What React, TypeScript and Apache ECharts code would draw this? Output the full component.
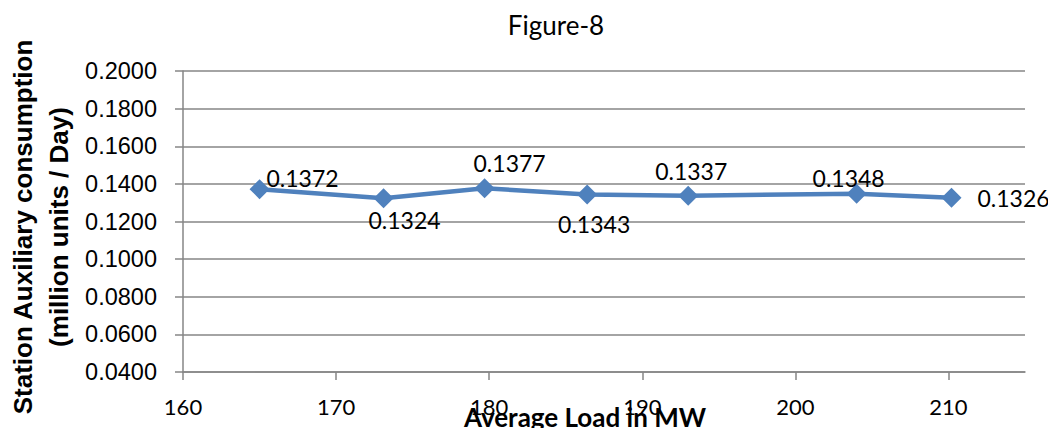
import React, { useEffect, useRef } from "react";
import * as echarts from "echarts";

const loads = [165.0, 173.1, 179.7, 186.4, 193.0, 204.0, 210.2];
const consumption = [0.1372, 0.1324, 0.1377, 0.1343, 0.1337, 0.1348, 0.1326];
const labelOffsets = [
  [43, -11],
  [21, 22],
  [25, -25],
  [7, 29],
  [3, -25],
  [-8, -16],
  [62, 0],
];
const xTicks = [160, 170, 180, 190, 200, 210];

export default function App() {
  const ref = useRef<HTMLDivElement>(null);
  useEffect(() => {
    if (!ref.current) return;
    const chart = echarts.init(ref.current, null, { renderer: "svg" });
    const gray = "#868686";
    chart.setOption({
      animation: false,
      backgroundColor: "#ffffff",
      title: {
        text: "Figure-8",
        left: 551,
        top: 7,
        textAlign: "center",
        textStyle: { fontFamily: "Lato", fontSize: 26, fontWeight: "normal", color: "#000" },
      },
      grid: { left: 183, right: 31, top: 71, bottom: 64 },
      xAxis: {
        type: "value",
        min: 160,
        max: 215,
        interval: 5,
        axisLine: { show: true, lineStyle: { color: gray, width: 1.5 } },
        axisTick: { show: true, length: 8, lineStyle: { color: gray, width: 1.5 }, customValues: xTicks },
        axisLabel: {
          customValues: xTicks,
          fontFamily: "Lato",
          fontSize: 22,
          color: "#000",
          margin: 23,
        },
        splitLine: { show: false },
      },
      yAxis: {
        type: "value",
        min: 0.04,
        max: 0.2,
        interval: 0.02,
        axisLine: { show: true, lineStyle: { color: gray, width: 1.5 } },
        axisTick: { show: true, length: 8, lineStyle: { color: gray, width: 1.5 } },
        axisLabel: {
          fontFamily: "Liberation Sans",
          fontSize: 23.5,
          color: "#000",
          margin: 26,
          formatter: (v: number) => v.toFixed(4),
        },
        splitLine: { show: true, lineStyle: { color: gray, width: 1.5 } },
      },
      graphic: [
        {
          type: "text",
          x: 41,
          y: 227,
          rotation: Math.PI / 2,
          style: {
            text: "Station Auxiliary consumption\n(million units / Day)",
            fontFamily: "Liberation Sans",
            fontWeight: "bold",
            fontSize: 26,
            lineHeight: 36,
            fill: "#000",
            textAlign: "center",
            textVerticalAlign: "middle",
          },
        },
        {
          type: "text",
          x: 585,
          y: 417,
          style: {
            text: "Average Load in MW",
            fontFamily: "Lato",
            fontWeight: "bold",
            fontSize: 26,
            fill: "#000",
            textAlign: "center",
            textVerticalAlign: "middle",
          },
        },
      ],
      series: [
        {
          type: "line",
          data: loads.map((x, i) => ({
            value: [x, consumption[i]],
            label: { offset: labelOffsets[i] },
          })),
          symbol: "diamond",
          symbolSize: 20,
          itemStyle: { color: "#4F81BD" },
          lineStyle: { color: "#4F81BD", width: 4.5 },
          label: {
            show: true,
            position: "inside",
            align: "center",
            verticalAlign: "middle",
            fontFamily: "Lato",
            fontSize: 23,
            color: "#000",
            formatter: (p: any) => p.value[1].toFixed(4),
          },
        },
      ],
    });
    return () => chart.dispose();
  }, []);
  return <div ref={ref} style={{ width: 1056, height: 436, margin: -8 }} />;
}
